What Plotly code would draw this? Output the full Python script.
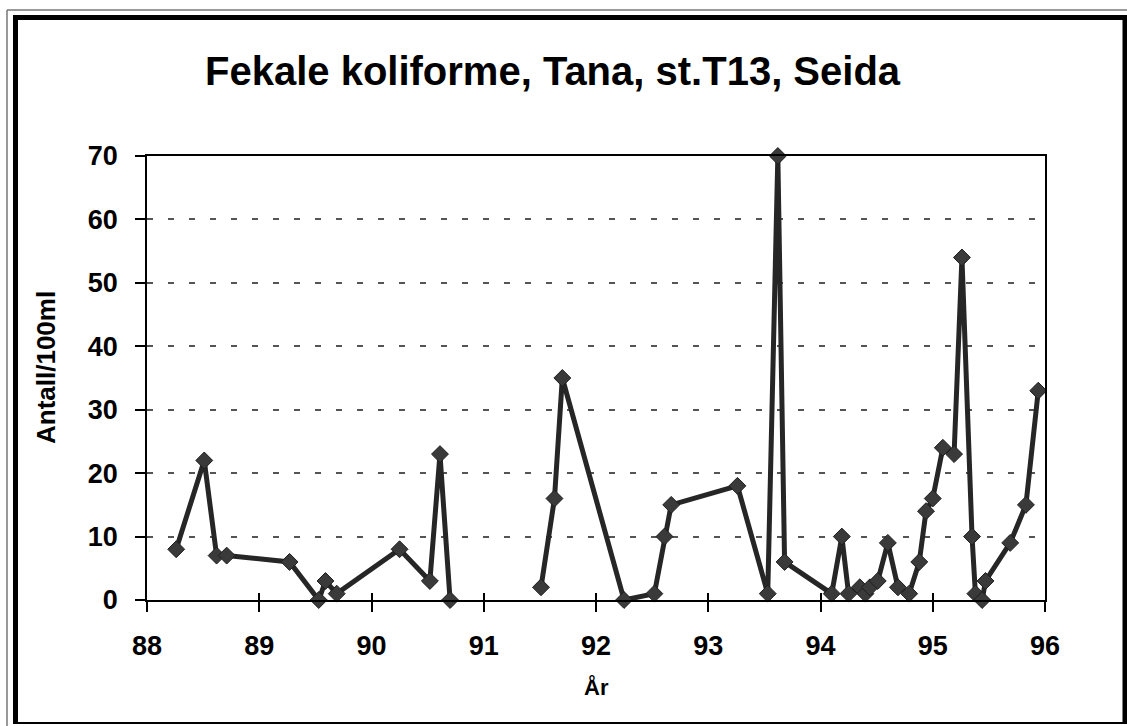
import plotly.graph_objects as go

# Data (year, count per 100 ml)
years = [88.26, 88.51, 88.62, 88.71, 89.27, 89.53, 89.59, 89.69, 90.25, 90.52, 90.61, 90.70,
         None,
         91.51, 91.63, 91.70, 92.25, 92.52, 92.61, 92.67, 93.26, 93.53, 93.62, 93.68,
         94.10, 94.19, 94.25, 94.35, 94.40, 94.44, 94.51, 94.60, 94.69, 94.79, 94.88,
         94.94, 95.00, 95.09, 95.19, 95.26, 95.35, 95.38, 95.44, 95.47, 95.69, 95.83, 95.94]
counts = [8, 22, 7, 7, 6, 0, 3, 1, 8, 3, 23, 0,
          None,
          2, 16, 35, 0, 1, 10, 15, 18, 1, 70, 6,
          1, 10, 1, 2, 1, 2, 3, 9, 2, 1, 6,
          14, 16, 24, 23, 54, 10, 1, 0, 3, 9, 15, 33]
x_ticks = [88, 89, 90, 91, 92, 93, 94, 95, 96]
y_ticks = [0, 10, 20, 30, 40, 50, 60, 70]

title_text = "Fekale koliforme, Tana, st.T13, Seida"
y_title = "Antall/100ml"
x_title = "År"

W, H = 1127, 726
L, R, T, B = 147, 82, 156, 126
PW, PH = W - L - R, H - T - B


def px(x):
    return (x - L) / PW


def py(y):
    return (H - B - y) / PH


FONT = "Liberation Sans, Arial, sans-serif"
ink = "#262626"

fig = go.Figure()
fig.add_trace(go.Scatter(
    x=years, y=counts, mode="lines+markers", connectgaps=False,
    line=dict(color=ink, width=5),
    marker=dict(symbol="diamond", size=13, color="#3a3a3a", line=dict(color="#1e1e1e", width=1)),
    cliponaxis=False, showlegend=False, hoverinfo="x+y",
))
fig.add_trace(go.Scatter(x=[], y=[], xaxis="x2", showlegend=False))

fig.update_layout(
    width=W, height=H,
    margin=dict(l=L, r=R, t=T, b=B, pad=0),
    paper_bgcolor="white", plot_bgcolor="white",
    xaxis=dict(range=[88, 96], tickvals=x_ticks, ticktext=[str(v) for v in x_ticks],
               ticks="outside", ticklen=10, tickwidth=1.5, tickcolor="black",
               showline=True, linecolor="black", linewidth=1.5, mirror=True,
               showgrid=False, zeroline=False, ticklabelstandoff=11,
               tickfont=dict(family=FONT, size=27, color="black", weight="bold")),
    xaxis2=dict(range=[88, 96], tickvals=x_ticks, overlaying="x", ticks="inside", ticklen=7,
                tickwidth=1.5, tickcolor="black", showticklabels=False, showline=False,
                showgrid=False, zeroline=False, side="bottom"),
    yaxis=dict(range=[0, 70], tickvals=y_ticks, ticktext=[str(v) for v in y_ticks],
               ticks="outside", ticklen=10, tickwidth=1.5, tickcolor="black",
               showline=True, linecolor="black", linewidth=1.5, mirror=True,
               showgrid=True, gridcolor="#555555", gridwidth=1.5, griddash="6px,15px",
               zeroline=False, ticklabelstandoff=12,
               tickfont=dict(family=FONT, size=27, color="black", weight="bold")),
    annotations=[
        dict(text=title_text, x=px(553), y=py(71), xref="paper", yref="paper",
             showarrow=False, xanchor="center", yanchor="middle",
             font=dict(family=FONT, size=40, color="black", weight="bold")),
        dict(text=y_title, x=px(46), y=py(368), xref="paper", yref="paper", textangle=-90,
             showarrow=False, xanchor="center", yanchor="middle",
             font=dict(family=FONT, size=26, color="black", weight="bold")),
        dict(text=x_title, x=px(596), y=py(687), xref="paper", yref="paper",
             showarrow=False, xanchor="center", yanchor="middle",
             font=dict(family=FONT, size=22, color="black", weight="bold")),
    ],
    shapes=[
        # thin outer frame lines
        dict(type="line", xref="paper", yref="paper", x0=px(7), x1=px(7), y0=py(10), y1=py(726),
             line=dict(color="#777777", width=1.5)),
        dict(type="line", xref="paper", yref="paper", x0=px(7), x1=px(1127), y0=py(10), y1=py(10),
             line=dict(color="#777777", width=1.5)),
        # thick inner frame
        dict(type="line", xref="paper", yref="paper", x0=px(15.5), x1=px(15.5), y0=py(15), y1=py(724),
             line=dict(color="black", width=5)),
        dict(type="line", xref="paper", yref="paper", x0=px(13), x1=px(1127), y0=py(17.5), y1=py(17.5),
             line=dict(color="black", width=5)),
        dict(type="line", xref="paper", yref="paper", x0=px(1125), x1=px(1125), y0=py(15), y1=py(724),
             line=dict(color="black", width=5)),
        dict(type="line", xref="paper", yref="paper", x0=px(13), x1=px(1127), y0=py(723), y1=py(723),
             line=dict(color="black", width=2)),
    ],
)

fig.write_html("out.html", config={"displayModeBar": False},
               post_script="document.body.style.margin='0';document.body.style.padding='0';")
